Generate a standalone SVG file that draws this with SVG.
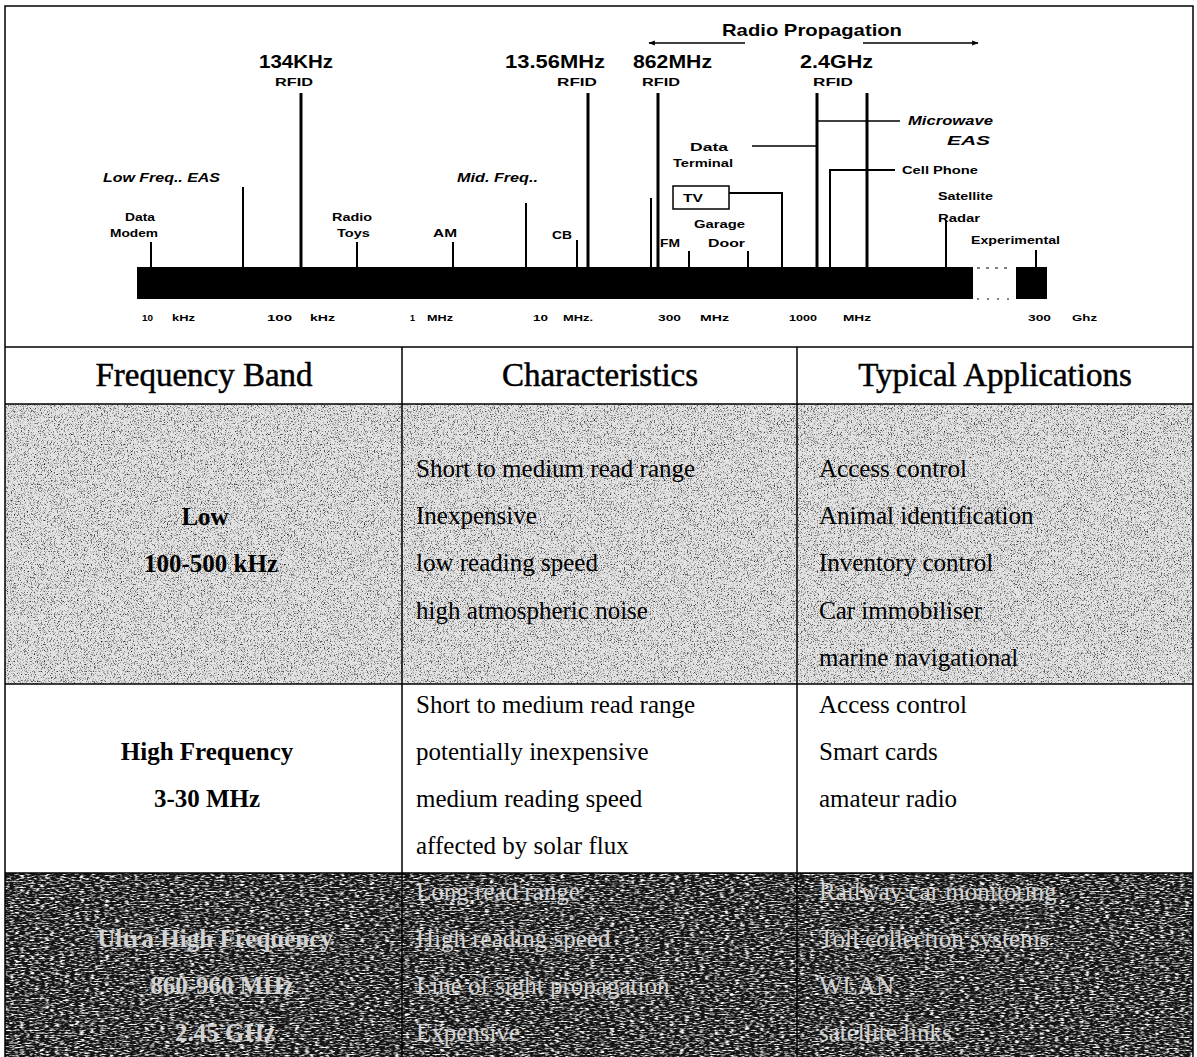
<svg xmlns="http://www.w3.org/2000/svg" width="1197" height="1057" viewBox="0 0 1197 1057">
  <style>
    .lbl { font-family: "Liberation Sans", Arial, sans-serif; font-weight: bold; fill: #000; }
    .big { font-size: 18px; }
    .rf { font-size: 11px; }
    .sm { font-size: 10px; }
    .ax { font-size: 9px; }
    .it { font-style: italic; font-size: 13px; }
    .cell { font-family: "Liberation Serif", "Times New Roman", serif; font-size: 25px; fill: #000; }
    .hd { font-family: "Liberation Serif", "Times New Roman", serif; font-size: 33px; fill: #000; stroke: #000; stroke-width: 0.5; }
    .b { font-weight: bold; }
    .inv { fill: #d2d2d2; }
    .tick { stroke: #000; stroke-width: 2; fill: none; }
    .rfl { stroke: #000; stroke-width: 3; fill: none; }
    .thin { stroke: #000; stroke-width: 1.3; fill: none; }
    .grid { stroke: #000; stroke-width: 1.5; fill: none; }
  </style>
  <defs>
    <marker id="ah" viewBox="0 0 10 10" refX="9" refY="5" markerWidth="5" markerHeight="5" orient="auto-start-reverse">
      <path d="M0,1 L10,5 L0,9 Z" fill="#000"/>
    </marker>
    <!-- dark speckle for the lightly shaded row -->
    <filter id="grainDark" x="0" y="0" width="100%" height="100%">
      <feTurbulence type="fractalNoise" baseFrequency="1.3" numOctaves="1" seed="4"/>
      <feColorMatrix type="matrix" values="0 0 0 0 0  0 0 0 0 0  0 0 0 0 0  0 0 0 -3 1.45"/>
      <feComposite in2="SourceGraphic" operator="in"/>
    </filter>
    <!-- light streaky speckle for the dark row -->
    <filter id="grainLight" x="0" y="0" width="100%" height="100%">
      <feTurbulence type="fractalNoise" baseFrequency="0.2 0.7" numOctaves="2" seed="7"/>
      <feColorMatrix type="matrix" values="0 0 0 0 1  0 0 0 0 1  0 0 0 0 1  0 0 0 -3.2 1.75"/>
      <feComposite in2="SourceGraphic" operator="in"/>
    </filter>
  </defs>

  <rect width="1197" height="1057" fill="#fff"/>

  <!-- shaded table rows -->
  <g id="row-shading">
    <rect x="5" y="404" width="1188" height="280" fill="#e3e3e3"/>
    <rect x="5" y="404" width="1188" height="280" fill="#000" filter="url(#grainDark)"/>
    <rect x="5" y="873" width="1188" height="184" fill="#141414"/>
    <rect x="5" y="873" width="1188" height="184" fill="#fff" filter="url(#grainLight)"/>
  </g>

  <!-- spectrum chart -->
  <g id="spectrum-bar">
    <rect x="137" y="267" width="836" height="32" fill="#000"/>
    <rect x="1016" y="267" width="31" height="32" fill="#000"/>
    <line x1="977" y1="268" x2="1013" y2="268" stroke="#000" stroke-width="1" stroke-dasharray="3 6"/>
    <line x1="977" y1="299" x2="1013" y2="299" stroke="#000" stroke-width="1" stroke-dasharray="2 8"/>
  </g>

  <g id="connectors">
    <!-- Radio propagation arrows -->
    <line x1="745" y1="43" x2="649" y2="43" class="thin" marker-end="url(#ah)"/>
    <line x1="863" y1="43" x2="978" y2="43" class="thin" marker-end="url(#ah)"/>
    <!-- RFID carriers -->
    <line x1="301" y1="93" x2="301" y2="267" class="rfl" stroke-width="2.5"/>
    <line x1="588" y1="93" x2="588" y2="267" class="rfl" stroke-width="2.5"/>
    <line x1="658" y1="93" x2="658" y2="267" class="rfl"/>
    <line x1="817" y1="93" x2="817" y2="267" class="rfl" stroke-width="3.5"/>
    <line x1="867" y1="93" x2="867" y2="267" class="rfl"/>
    <!-- band markers -->
    <line x1="151" y1="242" x2="151" y2="267" class="tick"/>
    <line x1="243" y1="187" x2="243" y2="267" class="tick"/>
    <line x1="357" y1="242" x2="357" y2="267" class="tick"/>
    <line x1="453" y1="242" x2="453" y2="267" class="tick"/>
    <line x1="526" y1="203" x2="526" y2="267" class="tick"/>
    <line x1="577" y1="240" x2="577" y2="267" class="tick"/>
    <line x1="651" y1="198" x2="651" y2="267" class="tick"/>
    <line x1="689" y1="251" x2="689" y2="267" class="tick"/>
    <line x1="748" y1="251" x2="748" y2="267" class="tick"/>
    <polyline points="717,193 782,193 782,267" class="tick"/>
    <polyline points="895,170 830,170 830,267" class="tick"/>
    <line x1="818" y1="121" x2="900" y2="121" class="thin"/>
    <line x1="752" y1="146" x2="817" y2="146" class="thin"/>
    <line x1="946" y1="220" x2="946" y2="267" class="tick"/>
    <line x1="1036" y1="250" x2="1036" y2="267" class="tick"/>
  </g>

  <g id="title">
    <text class="lbl" x="722" y="36" font-size="17" textLength="180" lengthAdjust="spacingAndGlyphs">Radio Propagation</text>
  </g>
  <g id="rfid-134khz">
    <text class="lbl big" x="259" y="68" textLength="74" lengthAdjust="spacingAndGlyphs">134KHz</text>
    <text class="lbl rf" x="275" y="86" textLength="38" lengthAdjust="spacingAndGlyphs">RFID</text>
  </g>
  <g id="rfid-13mhz">
    <text class="lbl big" x="505" y="68" textLength="100" lengthAdjust="spacingAndGlyphs">13.56MHz</text>
    <text class="lbl rf" x="557" y="86" textLength="40" lengthAdjust="spacingAndGlyphs">RFID</text>
  </g>
  <g id="rfid-862mhz">
    <text class="lbl big" x="633" y="68" textLength="79" lengthAdjust="spacingAndGlyphs">862MHz</text>
    <text class="lbl rf" x="642" y="86" textLength="38" lengthAdjust="spacingAndGlyphs">RFID</text>
  </g>
  <g id="rfid-24ghz">
    <text class="lbl big" x="800" y="68" textLength="73" lengthAdjust="spacingAndGlyphs">2.4GHz</text>
    <text class="lbl rf" x="813" y="86" textLength="40" lengthAdjust="spacingAndGlyphs">RFID</text>
  </g>
  <g id="low-freq-eas"><text class="lbl it" x="103" y="182" textLength="117" lengthAdjust="spacingAndGlyphs">Low Freq.. EAS</text></g>
  <g id="mid-freq"><text class="lbl it" x="457" y="182" textLength="81" lengthAdjust="spacingAndGlyphs">Mid. Freq..</text></g>
  <g id="data-modem">
    <text class="lbl sm" x="125" y="221" textLength="30" lengthAdjust="spacingAndGlyphs">Data</text>
    <text class="lbl sm" x="110" y="237" textLength="48" lengthAdjust="spacingAndGlyphs">Modem</text>
  </g>
  <g id="radio-toys">
    <text class="lbl sm" x="332" y="221" textLength="40" lengthAdjust="spacingAndGlyphs">Radio</text>
    <text class="lbl sm" x="337" y="237" textLength="33" lengthAdjust="spacingAndGlyphs">Toys</text>
  </g>
  <g id="am"><text class="lbl sm" x="433" y="237" textLength="24" lengthAdjust="spacingAndGlyphs">AM</text></g>
  <g id="cb"><text class="lbl sm" x="552" y="239" textLength="20" lengthAdjust="spacingAndGlyphs">CB</text></g>
  <g id="fm"><text class="lbl sm" x="660" y="247" textLength="20" lengthAdjust="spacingAndGlyphs">FM</text></g>
  <g id="data-terminal">
    <text class="lbl sm" x="690" y="151" textLength="38" lengthAdjust="spacingAndGlyphs">Data</text>
    <text class="lbl sm" x="673" y="167" textLength="60" lengthAdjust="spacingAndGlyphs">Terminal</text>
  </g>
  <g id="tv">
    <rect x="673" y="186" width="56" height="23" fill="#fff" stroke="#000" stroke-width="1.5"/>
    <text class="lbl" x="683" y="202" font-size="11" textLength="20" lengthAdjust="spacingAndGlyphs">TV</text>
  </g>
  <g id="garage-door">
    <text class="lbl sm" x="694" y="228" textLength="51" lengthAdjust="spacingAndGlyphs">Garage</text>
    <text class="lbl sm" x="708" y="247" textLength="37" lengthAdjust="spacingAndGlyphs">Door</text>
  </g>
  <g id="microwave-eas">
    <text class="lbl it" x="908" y="125" font-size="12" textLength="85" lengthAdjust="spacingAndGlyphs">Microwave</text>
    <text class="lbl it" x="947" y="145" font-size="12" textLength="43" lengthAdjust="spacingAndGlyphs">EAS</text>
  </g>
  <g id="cell-phone"><text class="lbl sm" x="902" y="174" textLength="76" lengthAdjust="spacingAndGlyphs">Cell Phone</text></g>
  <g id="satellite-radar">
    <text class="lbl sm" x="938" y="200" textLength="55" lengthAdjust="spacingAndGlyphs">Satellite</text>
    <text class="lbl sm" x="938" y="222" textLength="42" lengthAdjust="spacingAndGlyphs">Radar</text>
  </g>
  <g id="experimental"><text class="lbl sm" x="971" y="244" textLength="89" lengthAdjust="spacingAndGlyphs">Experimental</text></g>

  <g id="axis-labels" class="lbl ax">
    <text x="142" y="321" textLength="11" lengthAdjust="spacingAndGlyphs">10</text>
    <text x="172" y="321" textLength="23" lengthAdjust="spacingAndGlyphs">kHz</text>
    <text x="267" y="321" textLength="25" lengthAdjust="spacingAndGlyphs">100</text>
    <text x="310" y="321" textLength="25" lengthAdjust="spacingAndGlyphs">kHz</text>
    <text x="410" y="321">1</text>
    <text x="427" y="321" textLength="26" lengthAdjust="spacingAndGlyphs">MHz</text>
    <text x="533" y="321" textLength="15" lengthAdjust="spacingAndGlyphs">10</text>
    <text x="563" y="321" textLength="30" lengthAdjust="spacingAndGlyphs">MHz.</text>
    <text x="658" y="321" textLength="23" lengthAdjust="spacingAndGlyphs">300</text>
    <text x="700" y="321" textLength="29" lengthAdjust="spacingAndGlyphs">MHz</text>
    <text x="789" y="321" textLength="28" lengthAdjust="spacingAndGlyphs">1000</text>
    <text x="843" y="321" textLength="28" lengthAdjust="spacingAndGlyphs">MHz</text>
    <text x="1028" y="321" textLength="23" lengthAdjust="spacingAndGlyphs">300</text>
    <text x="1072" y="321" textLength="25" lengthAdjust="spacingAndGlyphs">Ghz</text>
  </g>

  <!-- table rules -->
  <g id="table-grid" class="grid">
    <rect x="5" y="6" width="1188" height="1055"/>
    <line x1="5" y1="347" x2="1193" y2="347"/>
    <line x1="5" y1="404" x2="1193" y2="404"/>
    <line x1="5" y1="684" x2="1193" y2="684"/>
    <line x1="5" y1="873" x2="1193" y2="873"/>
    <line x1="402" y1="347" x2="402" y2="1057"/>
    <line x1="797" y1="347" x2="797" y2="1057"/>
  </g>

  <g id="table-header">
    <text class="hd" x="204" y="386" text-anchor="middle">Frequency Band</text>
    <text class="hd" x="600" y="386" text-anchor="middle">Characteristics</text>
    <text class="hd" x="995" y="386" text-anchor="middle">Typical Applications</text>
  </g>

  <g id="row-low">
    <text class="cell b" x="205" y="525" text-anchor="middle">Low</text>
    <text class="cell b" x="211" y="572" text-anchor="middle">100-500 kHz</text>
    <text class="cell" x="416" y="477">Short to medium read range</text>
    <text class="cell" x="416" y="524">Inexpensive</text>
    <text class="cell" x="416" y="571">low reading speed</text>
    <text class="cell" x="416" y="619">high atmospheric noise</text>
    <text class="cell" x="819" y="477">Access control</text>
    <text class="cell" x="819" y="524">Animal identification</text>
    <text class="cell" x="819" y="571">Inventory control</text>
    <text class="cell" x="819" y="619">Car immobiliser</text>
    <text class="cell" x="819" y="666">marine navigational</text>
  </g>

  <g id="row-high">
    <text class="cell b" x="207" y="760" text-anchor="middle">High Frequency</text>
    <text class="cell b" x="207" y="807" text-anchor="middle">3-30 MHz</text>
    <text class="cell" x="416" y="713">Short to medium read range</text>
    <text class="cell" x="416" y="760">potentially inexpensive</text>
    <text class="cell" x="416" y="807">medium reading speed</text>
    <text class="cell" x="416" y="854">affected by solar flux</text>
    <text class="cell" x="819" y="713">Access control</text>
    <text class="cell" x="819" y="760">Smart cards</text>
    <text class="cell" x="819" y="807">amateur radio</text>
  </g>

  <g id="row-uhf">
    <text class="cell b inv" x="215" y="947" text-anchor="middle">Ultra High Frequency</text>
    <text class="cell b inv" x="222" y="994" text-anchor="middle">860-960 MHz</text>
    <text class="cell b inv" x="225" y="1041" text-anchor="middle">2.45 GHz</text>
    <text class="cell inv" x="416" y="900">Long read range</text>
    <text class="cell inv" x="416" y="947">High reading speed</text>
    <text class="cell inv" x="416" y="994">Line of sight propagation</text>
    <text class="cell inv" x="416" y="1041">Expensive</text>
    <text class="cell inv" x="819" y="900">Railway car monitoring</text>
    <text class="cell inv" x="819" y="947">Toll collection systems</text>
    <text class="cell inv" x="819" y="994">WLAN</text>
    <text class="cell inv" x="819" y="1041">satellite links</text>
  </g>
</svg>
